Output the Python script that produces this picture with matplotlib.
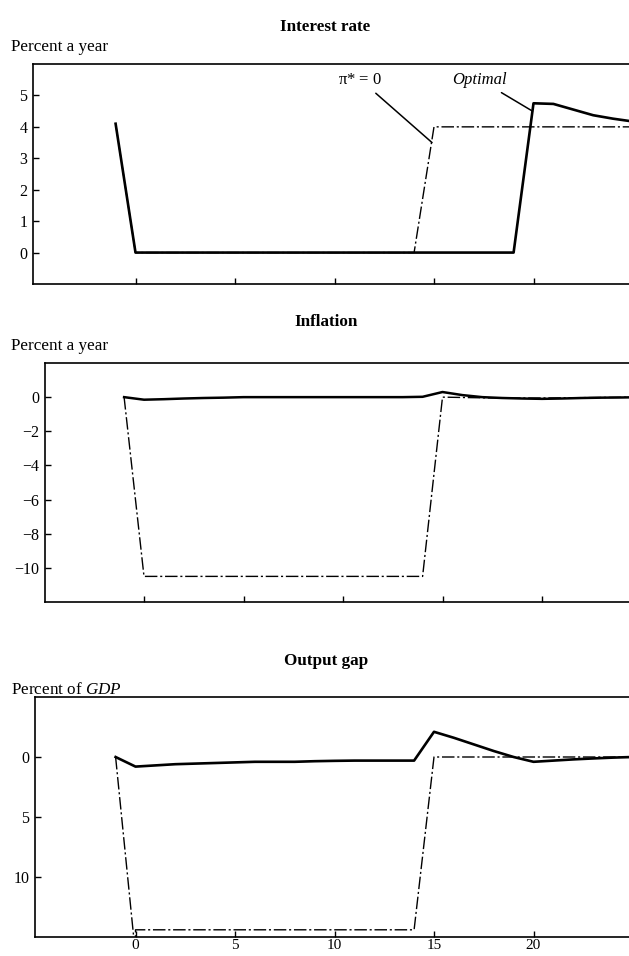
import matplotlib
matplotlib.use("Agg")
import matplotlib.pyplot as plt

plt.rcParams['font.family'] = ['Liberation Serif', 'DejaVu Serif']
plt.rcParams['mathtext.fontset'] = 'custom'
plt.rcParams['mathtext.rm'] = 'Liberation Serif'
plt.rcParams['mathtext.it'] = 'Liberation Serif:italic'

# quarters -1 .. 25
x = list(range(-1, 26))

# interest rate, percent a year
rate_opt = [4.1] + [0.0] * 20 + [4.75, 4.73, 4.55, 4.37, 4.26, 4.17]
rate_pi0 = [4.1] + [0.0] * 15 + [4.0] * 11

# inflation, percent a year
infl_opt = ([0.0, -0.15, -0.12, -0.08, -0.05, -0.03]      # -1 .. 4
            + [0.0] * 9                                   # 5 .. 13
            + [0.02]                                      # 14
            + [0.3, 0.12, 0.0, -0.05, -0.08, -0.1,        # 15 .. 20
               -0.08, -0.05, -0.03, -0.02, 0.0])          # 21 .. 25
infl_pi0 = ([0.0] + [-10.5] * 15
            + [0.0, -0.02, -0.04, -0.05, -0.05, -0.05, -0.04, -0.03, -0.02, -0.01, 0.0])

# output gap, percent of GDP
gap_opt = ([0.0, -0.8, -0.7, -0.6, -0.55, -0.5, -0.45]    # -1 .. 5
           + [-0.4, -0.4, -0.4, -0.35, -0.32]             # 6 .. 10
           + [-0.3, -0.3, -0.3, -0.3]                     # 11 .. 14
           + [2.1, 1.6, 1.05, 0.5, 0.0, -0.4,             # 15 .. 20
              -0.3, -0.2, -0.12, -0.05, 0.0])             # 21 .. 25
gap_pi0_x = [-1, 0] + list(range(0, 26))
gap_pi0 = [0.0, -16.5] + [-14.4] * 15 + [0.0] * 11

xticks = [0, 5, 10, 15, 20]

W, H = 629, 956
fig = plt.figure(figsize=(W / 100, H / 100), dpi=100)


def panel(left, top, bottom, zero_px):
    # axes box in pixels, x scale ~19.9 px per quarter
    ax = fig.add_axes([left / W, 1 - bottom / H, 1 - left / W, (bottom - top) / H])
    ax.set_xlim((left - zero_px) / 19.9, (W - zero_px) / 19.9)
    ax.set_xticks(xticks)
    ax.tick_params(direction='in', length=4, width=1, labelsize=11.5, pad=4)
    for s in ['left', 'top', 'bottom']:
        ax.spines[s].set_linewidth(1.2)
    ax.spines['right'].set_visible(False)
    return ax


dashdot = (0, (9, 2, 1.5, 2))

# Interest rate
ax1 = panel(33, 64, 284, 135.5)
ax1.plot(x, rate_pi0, color='black', lw=1.0, ls=dashdot)
ax1.plot(x, rate_opt, color='black', lw=1.9)
ax1.set_ylim(-1, 6)
ax1.set_yticks(range(0, 6))
ax1.set_xticklabels([])
ax1.annotate('π* = $\\mathit{0}$', xy=(14.9, 3.5), xytext=(11.3, 5.5),
             ha='center', va='center', fontsize=12,
             arrowprops=dict(arrowstyle='-', color='black', lw=1.1,
                             shrinkA=3, shrinkB=0))
ax1.annotate('Optimal', xy=(19.95, 4.5), xytext=(17.3, 5.5),
             ha='center', va='center', fontsize=12, style='italic',
             arrowprops=dict(arrowstyle='-', color='black', lw=1.1,
                             shrinkA=3, shrinkB=0))

# Inflation
ax2 = panel(45, 363, 602, 144)
ax2.plot(x, infl_pi0, color='black', lw=1.0, ls=dashdot)
ax2.plot(x, infl_opt, color='black', lw=1.8)
ax2.set_ylim(-12, 2)
ax2.set_yticks([0, -2, -4, -6, -8, -10])
ax2.set_xticklabels([])

# Output gap
ax3 = panel(35, 697, 937, 135.5)
ax3.plot(gap_pi0_x, gap_pi0, color='black', lw=1.0, ls=dashdot)
ax3.plot(x, gap_opt, color='black', lw=1.9)
ax3.set_ylim(-15, 5)
ax3.set_yticks([0, -5, -10])
ax3.set_yticklabels(['0', '5', '10'])
ax3.set_xticklabels([str(t) for t in xticks])
ax3.tick_params(axis='x', pad=1.5, labelsize=11)

# titles and unit labels
fig.text(325 / W, 1 - 27 / H, 'Interest rate', ha='center', va='center',
         fontsize=12.3, fontweight='bold')
fig.text(11 / W, 1 - 47 / H, 'Percent a year', ha='left', va='center', fontsize=12.3)
fig.text(326 / W, 1 - 322 / H, 'Inflation', ha='center', va='center',
         fontsize=12.3, fontweight='bold')
fig.text(11 / W, 1 - 346 / H, 'Percent a year', ha='left', va='center', fontsize=12.3)
fig.text(326 / W, 1 - 661 / H, 'Output gap', ha='center', va='center',
         fontsize=12.3, fontweight='bold')
fig.text(11 / W, 1 - 690 / H, 'Percent of $\\mathit{GDP}$', ha='left', va='center',
         fontsize=12.3)

fig.savefig('out.png', dpi=100)
